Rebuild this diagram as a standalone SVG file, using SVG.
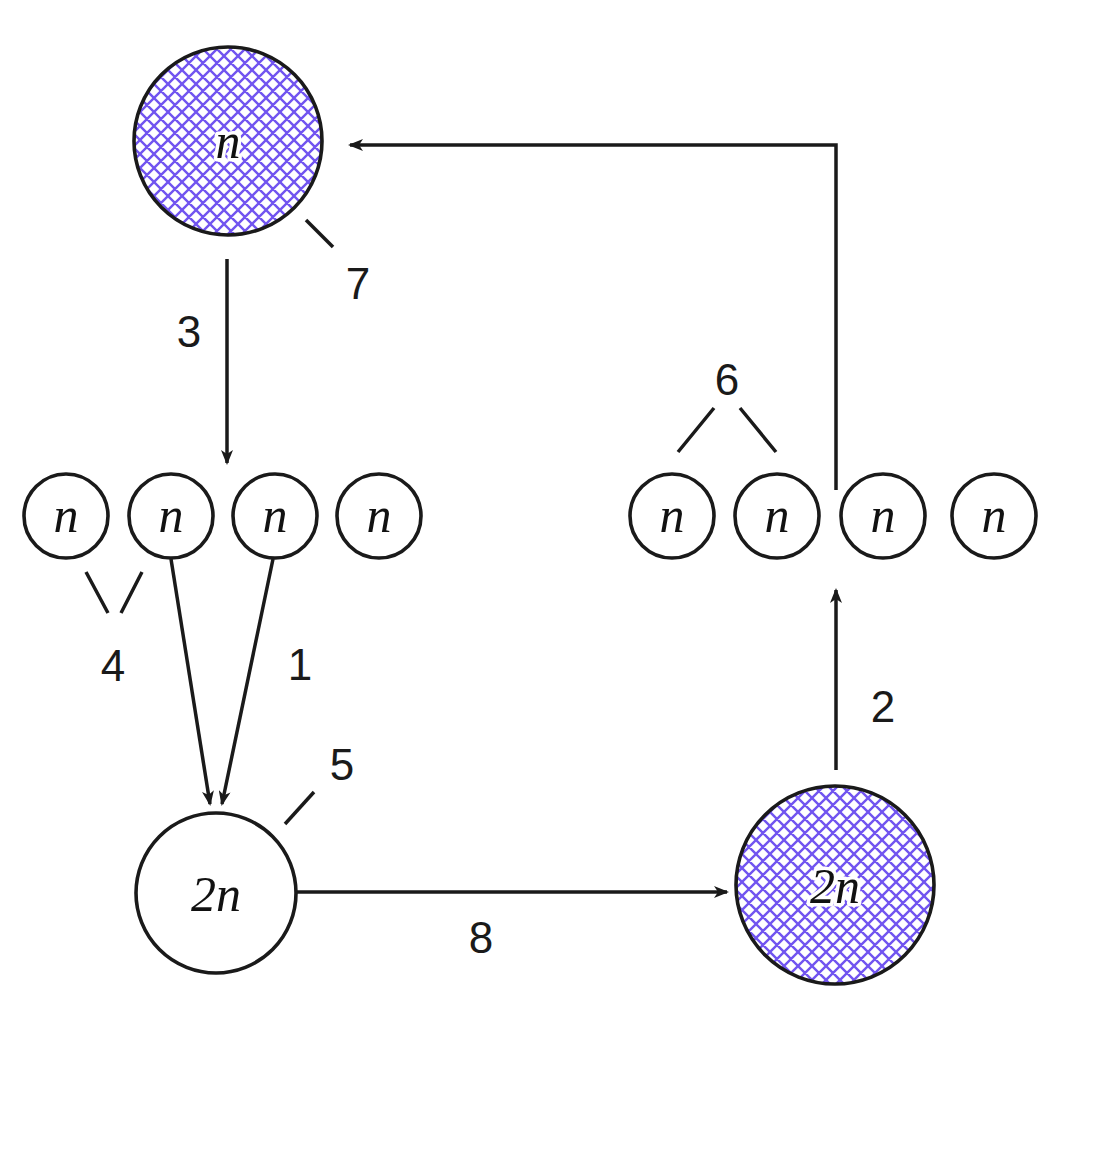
<svg xmlns="http://www.w3.org/2000/svg" width="1104" height="1161" viewBox="0 0 1104 1161">
<style>
.node{fill:#fff;stroke:#1a1a1a;stroke-width:3.6}
.hat{fill:url(#hatch);stroke:#1a1a1a;stroke-width:3.6}
.m{font-family:"Liberation Serif","DejaVu Serif",serif;font-style:italic;font-size:50px;fill:#111;text-anchor:middle}
.halo{stroke:#fff;stroke-width:7;paint-order:stroke;stroke-linejoin:round}
.lbl{font-family:"Liberation Sans",Arial,sans-serif;font-size:44px;fill:#1a1a1a;text-anchor:middle}
.ln{stroke:#1a1a1a;stroke-width:3.5;fill:none}
.ar{stroke:#1a1a1a;stroke-width:3.5;fill:none;marker-end:url(#ah)}
</style>
<defs>
<pattern id="hatch" patternUnits="userSpaceOnUse" width="14" height="14">
<rect width="14" height="14" fill="#fff"/>
<path d="M-2,2 l4,-4 M0,14 l14,-14 M12,16 l4,-4 M-2,12 l4,4 M0,0 l14,14 M12,-2 l4,4" stroke="#7154f0" stroke-width="2.4"/>
</pattern>
<marker id="ah" markerWidth="15" markerHeight="12" viewBox="0 0 15 12" refX="13" refY="6" orient="auto" markerUnits="userSpaceOnUse">
<path d="M0,0 L15,6 L0,12 L4,6 Z" fill="#1a1a1a"/>
</marker>
</defs>
<g id="connectors">
<path class="ar" d="M836,490 V145 H350"/>
<path class="ar" d="M227,259 V463"/>
<path class="ar" d="M171,559 L210,804"/>
<path class="ar" d="M273,559 L222,804"/>
<path class="ar" d="M296,892 H727"/>
<path class="ar" d="M836,770 V590"/>
<path class="ln" d="M306,220 L333,247"/>
<path class="ln" d="M86,572 L108,613 M142,572 L121,613"/>
<path class="ln" d="M314,792 L285,824"/>
<path class="ln" d="M714,408 L678,452 M740,408 L776,452"/>
</g>
<g id="top"><circle class="hat" cx="228" cy="141" r="94"/><text class="m halo" x="228" y="158">n</text></g>
<g id="l1"><circle class="node" cx="66" cy="516" r="42"/><text class="m" x="66" y="532">n</text></g>
<g id="l2"><circle class="node" cx="171" cy="516" r="42"/><text class="m" x="171" y="532">n</text></g>
<g id="l3"><circle class="node" cx="275" cy="516" r="42"/><text class="m" x="275" y="532">n</text></g>
<g id="l4"><circle class="node" cx="379" cy="516" r="42"/><text class="m" x="379" y="532">n</text></g>
<g id="r1"><circle class="node" cx="672" cy="516" r="42"/><text class="m" x="672" y="532">n</text></g>
<g id="r2"><circle class="node" cx="777" cy="516" r="42"/><text class="m" x="777" y="532">n</text></g>
<g id="r3"><circle class="node" cx="883" cy="516" r="42"/><text class="m" x="883" y="532">n</text></g>
<g id="r4"><circle class="node" cx="994" cy="516" r="42"/><text class="m" x="994" y="532">n</text></g>
<g id="bl"><circle class="node" cx="216" cy="893" r="80"/><text class="m" x="216" y="911">2n</text></g>
<g id="br"><circle class="hat" cx="835" cy="885" r="99"/><text class="m halo" x="835" y="903">2n</text></g>
<g id="labels">
<text class="lbl" x="358" y="299">7</text>
<text class="lbl" x="189" y="347">3</text>
<text class="lbl" x="727" y="395">6</text>
<text class="lbl" x="113" y="681">4</text>
<text class="lbl" x="300" y="680">1</text>
<text class="lbl" x="342" y="780">5</text>
<text class="lbl" x="883" y="722">2</text>
<text class="lbl" x="481" y="953">8</text>
</g>
</svg>
